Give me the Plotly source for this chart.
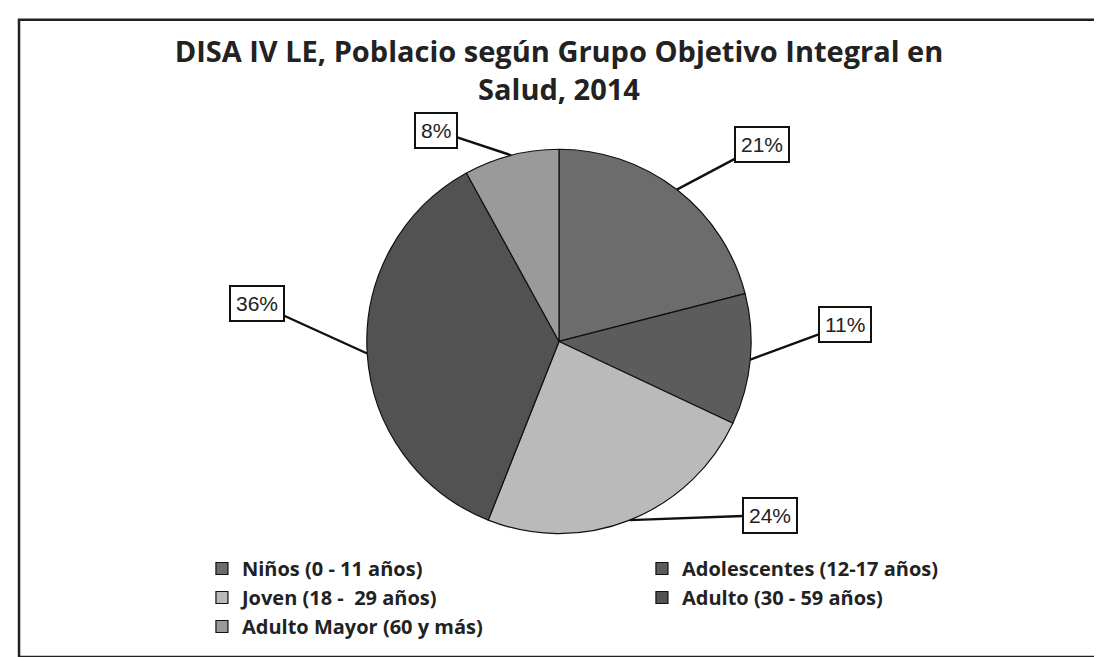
import math
import plotly.graph_objects as go

categories = ["Niños (0 - 11 años)", "Adolescentes (12-17 años)", "Joven (18 -  29 años)",
              "Adulto (30 - 59 años)", "Adulto Mayor (60 y más)"]
percent_values = [21, 11, 24, 36, 8]
slice_colors = ["#6c6c6c", "#5c5c5c", "#bababa", "#525252", "#9a9a9a"]
title_text = "<b>DISA IV LE, Poblacio según Grupo Objetivo Integral en<br>Salud, 2014</b>"

W, H = 1102, 657
dom_y = [0.2, 0.785]

fig = go.Figure(go.Pie(
    labels=categories,
    values=percent_values,
    sort=False,
    direction="clockwise",
    rotation=0,
    textinfo="none",
    hoverinfo="label+percent",
    marker=dict(colors=slice_colors, line=dict(color="#111111", width=1.2)),
    domain=dict(x=[0, 1], y=dom_y),
    showlegend=True,
))

# label boxes with leader lines, tips computed from slice mid-angles
cx_px = W / 2
cy_px = H * (1 - (dom_y[0] + dom_y[1]) / 2)
r_px = H * (dom_y[1] - dom_y[0]) / 2
offsets = [(85, -45), (95, -35), (140, -5), (-110, -50), (-75, -25)]
total = sum(percent_values)
cum = 0
annotations = []
for v, (ax, ay) in zip(percent_values, offsets):
    mid = (cum + v / 2) / total * 2 * math.pi
    cum += v
    tx = cx_px + r_px * math.sin(mid)
    ty = cy_px - r_px * math.cos(mid)
    annotations.append(dict(
        x=tx / W, y=1 - ty / H, xref="paper", yref="paper",
        text=f"{round(v / total * 100)}%", showarrow=True, arrowhead=0,
        arrowwidth=2.4, arrowcolor="#111111", ax=ax, ay=ay,
        bordercolor="#111111", borderwidth=2, borderpad=5, bgcolor="white",
        font=dict(family="Liberation Sans", size=21, color="#222222"),
    ))

fig.update_layout(
    width=W, height=H,
    margin=dict(l=0, r=0, t=0, b=0),
    paper_bgcolor="white",
    title=dict(text=title_text, x=0.5, xanchor="center", y=1 - 54 / H, yanchor="middle",
               font=dict(family="Open Sans", size=29, color="#222222")),
    legend=dict(orientation="h", x=0.176, xanchor="left", y=1 - 541 / H, yanchor="top",
                entrywidth=395, entrywidthmode="pixels", bgcolor="rgba(0,0,0,0)",
                font=dict(family="Open Sans", size=20, color="#222222", weight="bold")),
    annotations=annotations,
    shapes=[dict(type="rect", xref="paper", yref="paper", x0=0.010, x1=0.994, y0=0.012, y1=0.982,
                 line=dict(color="#222222", width=2.5))],
)

fig.write_html("out.html")
